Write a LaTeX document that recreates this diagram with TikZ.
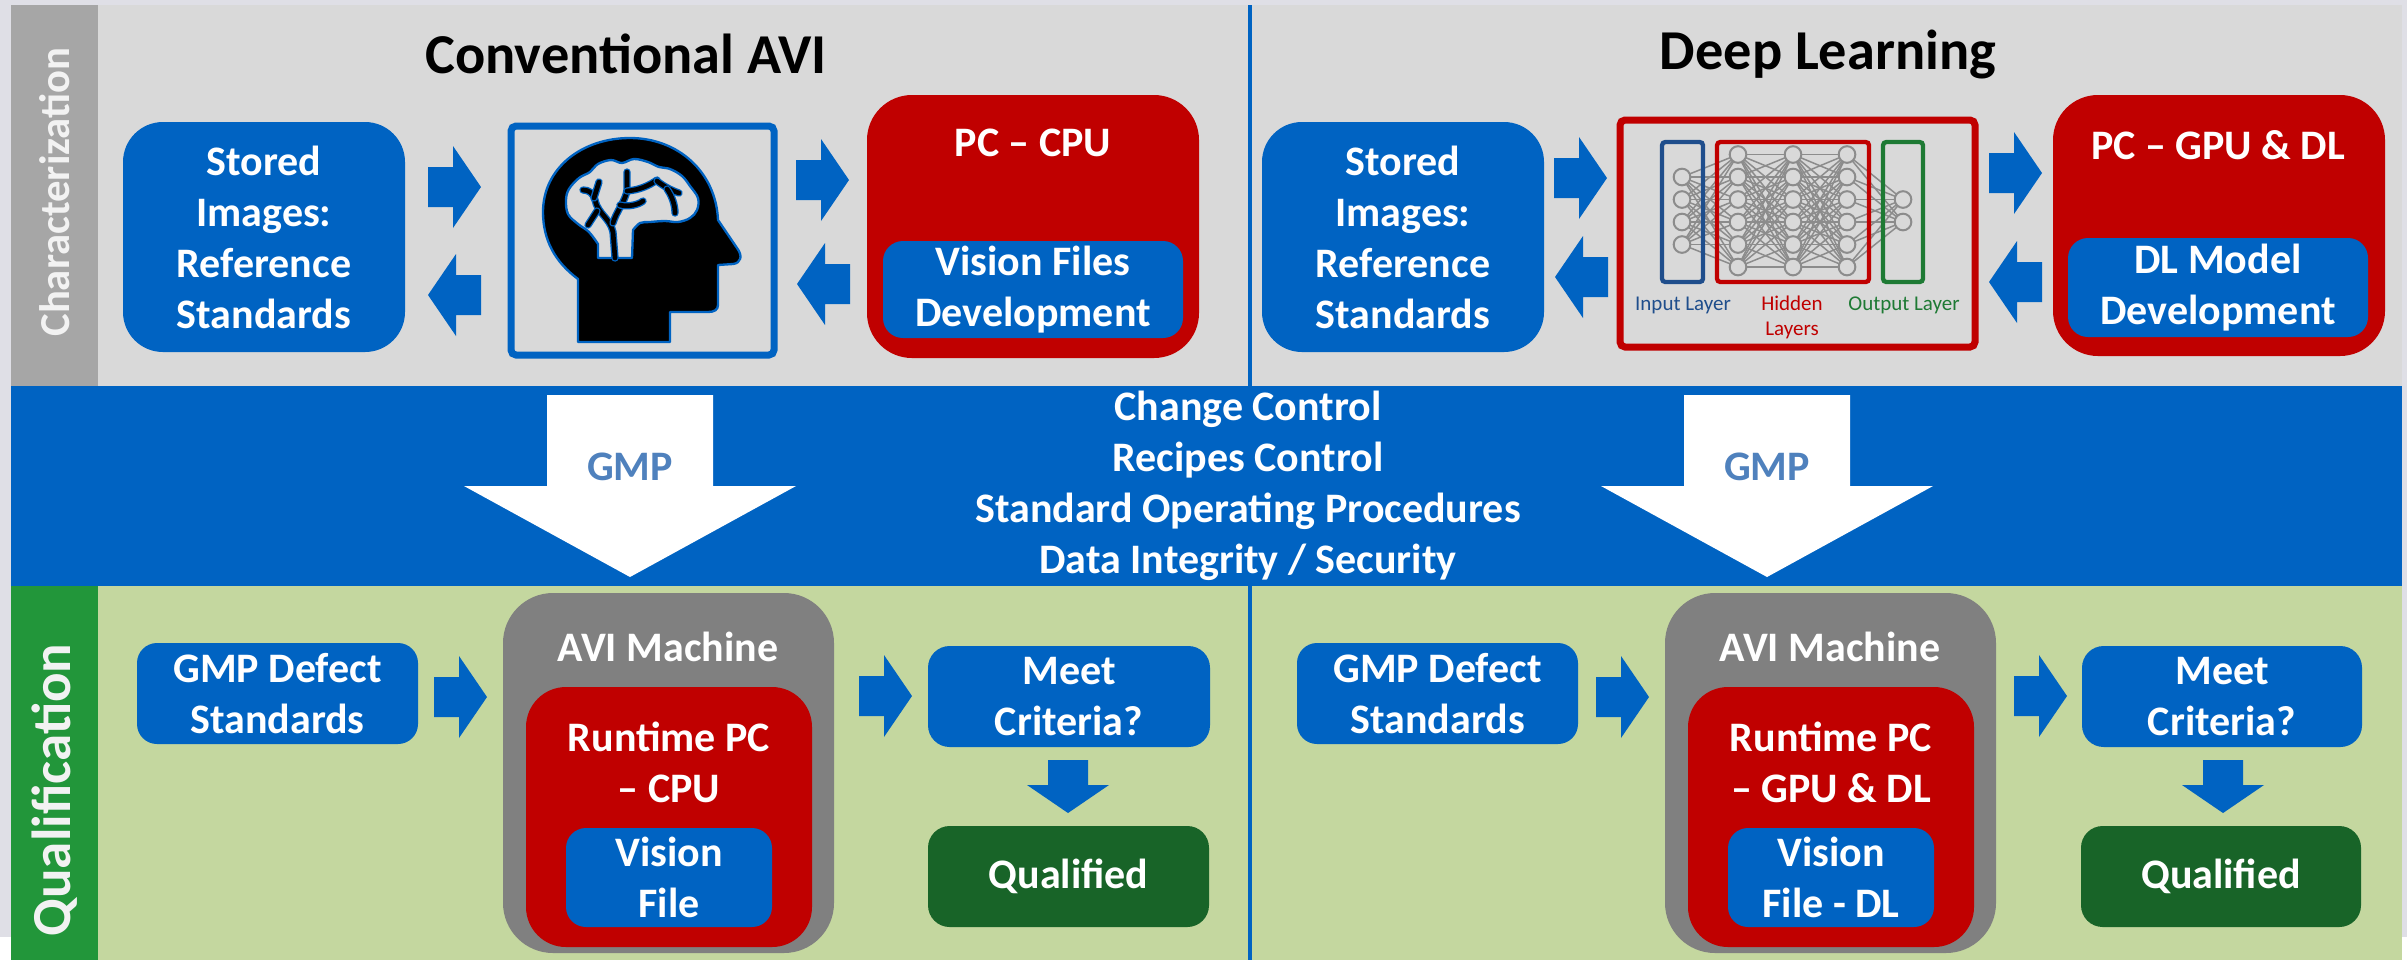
\documentclass[tikz,border=0pt]{standalone}
\usepackage{fontspec}
\setmainfont{Carlito}
\usetikzlibrary{fit}

\definecolor{cblue}{RGB}{0,99,194}
\definecolor{cred}{RGB}{192,0,0}
\definecolor{cpanel}{RGB}{217,217,217}
\definecolor{clabelgray}{RGB}{166,166,166}
\definecolor{cgreenbg}{RGB}{196,215,159}
\definecolor{cgreenlab}{RGB}{34,150,58}
\definecolor{cqual}{RGB}{24,100,40}
\definecolor{cavi}{RGB}{128,128,128}
\definecolor{clav}{RGB}{223,223,230}
\definecolor{cgmp}{RGB}{79,129,189}
\definecolor{cnnblue}{RGB}{31,78,140}
\definecolor{cnngreen}{RGB}{30,122,52}
\definecolor{cnode}{RGB}{140,140,140}
\definecolor{csidetext}{RGB}{242,242,242}

\newcommand\bxfont{\bfseries\fontsize{12.6}{15.3}\selectfont}
\newcommand\ttlfont{\bfseries\fontsize{16.9}{20}\selectfont}
\newcommand\charfont{\bfseries\fontsize{12.8}{15}\selectfont}
\newcommand\qualfont{\bfseries\fontsize{16.5}{18}\selectfont}
\newcommand\nnfont{\fontsize{6.3}{7.5}\selectfont}

\begin{document}
\begin{tikzpicture}[x=0.3pt,y=-0.3pt,
  bx/.style={draw=none, inner sep=0pt, fill=#1},
  txt/.style={text=white, font=\bxfont, align=center, inner sep=0pt},
  sidelabel/.style={rotate=90, text=csidetext, inner sep=0pt},
  vessel/.style={draw=black, line width=1.4pt, line cap=round,
    preaction={draw=cblue, line width=2.2pt, line cap=round}},
  nnlink/.style={draw=cnode, line width=0.45pt},
  nnnode/.style={circle, draw=cnode, fill=cpanel, line width=0.6pt,
    minimum size=5pt, inner sep=0pt},
  layerbox/.style={draw=#1, line width=1.3pt, rounded corners=1pt, inner sep=0pt},
  rarrow/.pic={\fill[cblue] (-53,-20) -- (-28,-20) -- (-28,-41) -- (0,0)
      -- (-28,41) -- (-28,20) -- (-53,20) -- cycle;},
  larrow/.pic={\fill[cblue] (53,-20) -- (28,-20) -- (28,-41) -- (0,0)
      -- (28,41) -- (28,20) -- (53,20) -- cycle;},
  darrow/.pic={\fill[cblue] (-20,-53) -- (20,-53) -- (20,-28) -- (41,-28)
      -- (0,0) -- (-41,-28) -- (-20,-28) -- cycle;},
  gmparrow/.pic={\fill[white] (-83,-182) -- (83,-182) -- (83,-91) -- (166,-91)
      -- (0,0) -- (-166,-91) -- (-83,-91) -- cycle;},
]
\useasboundingbox (0,0) rectangle (2407,960);

% ---------- background bands ----------
\fill[clav] (0,0) rectangle (2407,960);
\fill[white] (0,937) rectangle (11,960);
\fill[white] (2402,937) rectangle (2407,960);
\fill[cpanel] (11,5) rectangle (2402,386);
\fill[clabelgray] (11,5) rectangle (98,386);
\fill[cblue] (11,386) rectangle (2402,586);
\fill[cgreenbg] (11,586) rectangle (2402,960);
\fill[cgreenlab] (11,586) rectangle (98,960);
\coordinate (divTop) at (1250,5);
\coordinate (divMidA) at (1250,386);
\coordinate (divMidB) at (1250,586);
\coordinate (divBot) at (1250,960);
\draw[cblue, line width=1.2pt] (divTop) -- (divMidA) (divMidB) -- (divBot);

% ---------- side labels ----------
\node[sidelabel, font=\charfont] (lblChar) at (54.5,192) {Characterization};
\node[sidelabel, font=\qualfont] (lblQual) at (54.5,790) {Qualification};

% ---------- titles ----------
\node[font=\ttlfont, inner sep=0pt] (ttlL) at (626,54) {Conventional AVI};
\node[font=\ttlfont, inner sep=0pt] (ttlR) at (1828,54) {Deep Learning};

% ---------- characterization: conventional ----------
\node[bx=cblue, rounded corners=12pt, fit={(123,122) (405,352)}] (storedL) {};
\node[txt] (storedLt) at (storedL.center) {Stored\\Images:\\Reference\\Standards};

\pic at (481,187) {rarrow};
\pic at (428,295) {larrow};

\node[draw=cblue, line width=2.1pt, rounded corners=1.5pt, inner sep=0pt,
      fit={(511,126) (774,355)}] (brainbox) {};
% head silhouette
\filldraw[fill=black, draw=cblue, line width=0.7pt, line join=round]
  (578,342) -- (578,279) .. controls (555,262) and (543,240) .. (543,212)
  .. controls (543,168) and (582,138) .. (630,138)
  .. controls (678,138) and (716,172) .. (718,220)
  -- (737,248) .. controls (743,256) and (741,263) .. (733,264)
  -- (718,265) -- (718,305) .. controls (718,310) and (714,312) .. (708,312)
  -- (670,312) -- (670,342) -- cycle;
% brain
\filldraw[fill=cpanel, draw=cblue, line width=0.7pt, line join=round]
  (598,258) -- (598,244)
  -- plot[smooth, tension=0.6] coordinates {(598,244) (589,232) (578,224) (568,214)
     (566,200) (569,189) (579,178) (590,172) (598,164) (611,160) (622,163)
     (634,159) (648,162) (659,167) (670,169) (682,176) (690,186) (698,198)
     (697,210) (690,218) (678,222) (665,221) (650,222) (640,223) (633,230)}
  -- (632,258) -- cycle;
\draw[vessel] (615,258) -- (613,232) .. controls (610,218) and (598,214) .. (595,200)
  .. controls (593,193) and (589,190) .. (583,190);
\draw[vessel] (597,211) -- (588,225);
\draw[vessel] (594,198) -- (599,182);
\draw[vessel] (613,223) .. controls (616,212) and (626,200) .. (627,190) -- (627,172);
\draw[vessel] (627,191) .. controls (640,190) and (650,185) .. (657,180);
\draw[vessel] (657,181) .. controls (662,185) and (670,190) .. (679,193);
\draw[vessel] (667,189) .. controls (672,196) and (675,205) .. (675,213);
\draw[vessel] (620,205) .. controls (628,207) and (638,205) .. (643,201);

\pic at (849,180) {rarrow};
\pic at (797,284) {larrow};

\node[bx=cred, rounded corners=13.5pt, fit={(867,95) (1199,358)}] (pcL) {};
\node[txt] (pcLt) at (1033,143) {PC -- CPU};
\node[bx=cblue, rounded corners=6pt, fit={(883,241) (1183,338)}] (visL) {};
\node[txt] (visLt) at (visL.center) {Vision Files\\Development};

% ---------- characterization: deep learning ----------
\node[bx=cblue, rounded corners=12pt, fit={(1262,122) (1544,352)}] (storedR) {};
\node[txt] (storedRt) at (storedR.center) {Stored\\Images:\\Reference\\Standards};

\pic at (1607,178) {rarrow};
\pic at (1555,277) {larrow};

\node[draw=cred, line width=2.1pt, rounded corners=1.5pt, inner sep=0pt,
      fit={(1620,120) (1975,347)}] (nnbox) {};
% network links
\foreach \ya in {177,199.5,222,244.5}
  \foreach \yb in {154.5,177,199.5,222,244.5,267}
    \draw[nnlink] (1682,\ya) -- (1738,\yb);
\foreach \xa/\xb in {1738/1793,1793/1847}
  \foreach \ya in {154.5,177,199.5,222,244.5,267}
    \foreach \yb in {154.5,177,199.5,222,244.5,267}
      \draw[nnlink] (\xa,\ya) -- (\xb,\yb);
\foreach \ya in {154.5,177,199.5,222,244.5,267}
  \foreach \yb in {199.5,222}
    \draw[nnlink] (1847,\ya) -- (1903,\yb);
% network units
\foreach \y [count=\i] in {177,199.5,222,244.5}
  \node[nnnode] (in\i) at (1682,\y) {};
\foreach \x [count=\j] in {1738,1793,1847}
  \foreach \y [count=\i] in {154.5,177,199.5,222,244.5,267}
    \node[nnnode] (h\j-\i) at (\x,\y) {};
\foreach \y [count=\i] in {199.5,222}
  \node[nnnode] (out\i) at (1903,\y) {};
\node[layerbox=cnnblue, fit={(1662,142) (1703,282)}] (inLayer) {};
\node[layerbox=cred, fit={(1717,142) (1869,282)}] (hidLayer) {};
\node[layerbox=cnngreen, fit={(1883,142) (1923,282)}] (outLayer) {};
\node[font=\nnfont, text=cnnblue, inner sep=0pt] (inLbl) at (1683,305) {Input Layer};
\node[font=\nnfont, text=cred, inner sep=0pt, align=center] (hidLbl) at (1792,317) {Hidden\\Layers};
\node[font=\nnfont, text=cnngreen, inner sep=0pt] (outLbl) at (1904,305) {Output Layer};

\pic at (2042,173) {rarrow};
\pic at (1989,282) {larrow};

\node[bx=cred, rounded corners=13.5pt, fit={(2053,95) (2385,356)}] (pcR) {};
\node[txt] (pcRt) at (2218,145) {PC -- GPU \& DL};
\node[bx=cblue, rounded corners=6pt, fit={(2068,238) (2368,337)}] (dlR) {};
\node[txt] (dlRt) at (dlR.center) {DL Model\\Development};

% ---------- GMP band ----------
\pic at (630,577) {gmparrow};
\node[font=\bxfont, text=cgmp, inner sep=0pt] (gmpL) at (630,467) {GMP};
\pic at (1767,577) {gmparrow};
\node[font=\bxfont, text=cgmp, inner sep=0pt] (gmpR) at (1767,467) {GMP};
\node[txt] (controls) at (1248,486) {Change Control\\Recipes Control\\Standard Operating Procedures\\Data Integrity / Security};

% ---------- qualification: conventional ----------
\node[bx=cblue, rounded corners=6pt, fit={(137,643) (418,744)}] (defL) {};
\node[txt] (defLt) at (defL.center) {GMP Defect\\Standards};
\pic at (487,697) {rarrow};
\node[bx=cavi, rounded corners=15pt, fit={(503,593) (834,953)}] (aviL) {};
\node[txt] (aviLt) at (668,647) {AVI Machine};
\node[bx=cred, rounded corners=12pt, fit={(526,687) (812,947)}] (rtL) {};
\node[txt] (rtLt) at (669,762) {Runtime PC\\-- CPU};
\node[bx=cblue, rounded corners=6pt, fit={(566,828) (772,927)}] (vfL) {};
\node[txt] (vfLt) at (vfL.center) {Vision\\File};
\pic at (912,696) {rarrow};
\node[bx=cblue, rounded corners=6.5pt, fit={(928,646) (1210,747)}] (meetL) {};
\node[txt] (meetLt) at (meetL.center) {Meet\\Criteria?};
\pic at (1068,813) {darrow};
\node[bx=cqual, rounded corners=6.5pt, fit={(928,826) (1209,927)}] (qualL) {};
\node[txt] (qualLt) at (qualL.center) {Qualified};

% ---------- qualification: deep learning ----------
\node[bx=cblue, rounded corners=6pt, fit={(1297,643) (1578,744)}] (defR) {};
\node[txt] (defRt) at (defR.center) {GMP Defect\\Standards};
\pic at (1649,697) {rarrow};
\node[bx=cavi, rounded corners=15pt, fit={(1665,593) (1996,953)}] (aviR) {};
\node[txt] (aviRt) at (1830,647) {AVI Machine};
\node[bx=cred, rounded corners=12pt, fit={(1688,687) (1974,947)}] (rtR) {};
\node[txt] (rtRt) at (1831,762) {Runtime PC\\-- GPU \& DL};
\node[bx=cblue, rounded corners=6pt, fit={(1728,828) (1934,927)}] (vfR) {};
\node[txt] (vfRt) at (vfR.center) {Vision\\File - DL};
\pic at (2067,696) {rarrow};
\node[bx=cblue, rounded corners=6.5pt, fit={(2082,646) (2362,747)}] (meetR) {};
\node[txt] (meetRt) at (meetR.center) {Meet\\Criteria?};
\pic at (2223,813) {darrow};
\node[bx=cqual, rounded corners=6.5pt, fit={(2081,826) (2361,927)}] (qualR) {};
\node[txt] (qualRt) at (qualR.center) {Qualified};
\end{tikzpicture}
\end{document}
